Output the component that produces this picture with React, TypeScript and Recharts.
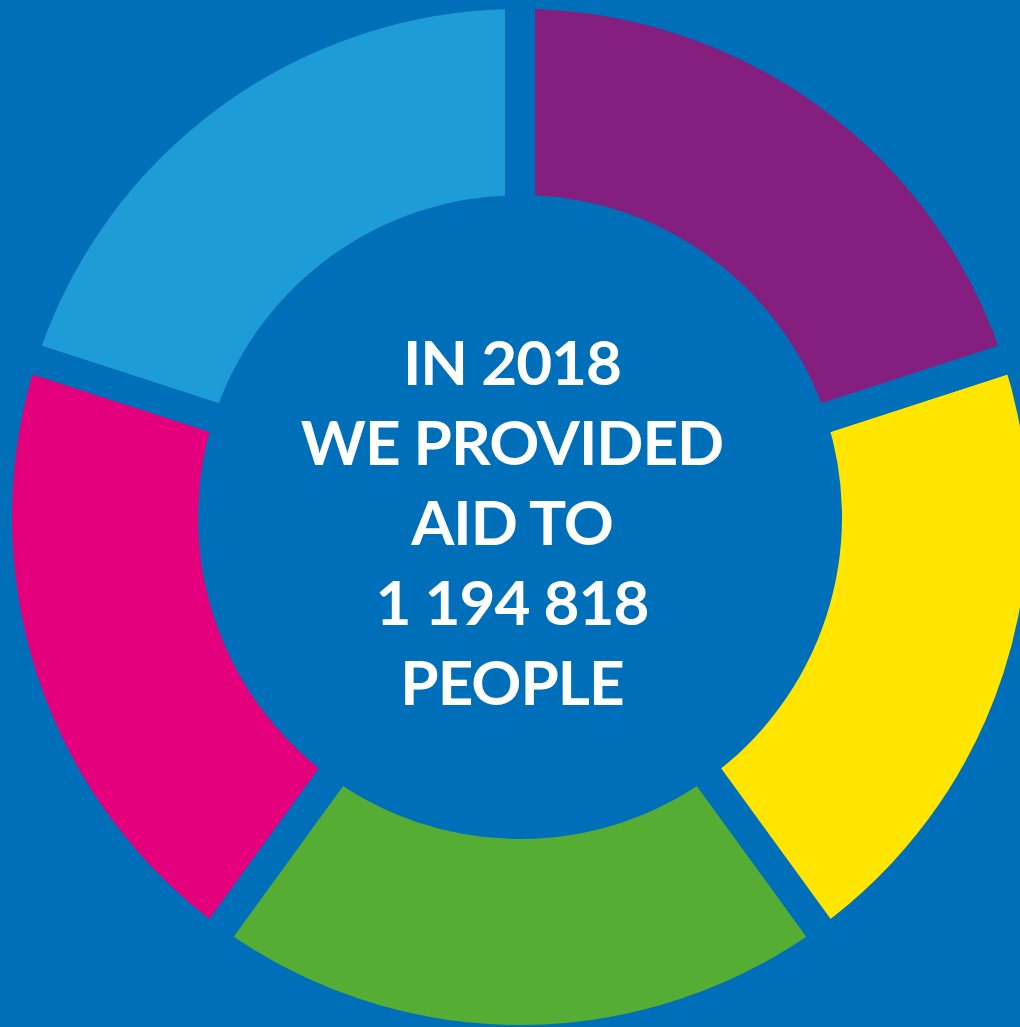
import { PieChart, Pie, Cell, Label } from "recharts";

const segmentNames = ["Segment A", "Segment B", "Segment C", "Segment D", "Segment E"];
const segmentValues = [1, 1, 1, 1, 1];
const segmentColors = ["#1E9CD8", "#E4007D", "#55AD33", "#FFE500", "#841F80"];
const centerLines = ["IN 2018", "WE PROVIDED", "AID TO", "1 194 818", "PEOPLE"];

const BG = "#006FBA";

const data = segmentNames.map((name, i) => ({
    name,
    value: segmentValues[i],
    color: segmentColors[i],
}));

function CenterText(props: any) {
    const vb = props.viewBox || {};
    const cx = (vb.cx ?? 520) - 8;
    const cy = vb.cy ?? 517;
    return (
        <g>
            {centerLines.map((line, i) => (
                <text
                    key={line}
                    x={cx}
                    y={cy - 132 + i * 80}
                    textAnchor="middle"
                    fill="#ffffff"
                    style={{ fontFamily: "Lato, 'Open Sans', sans-serif", fontWeight: 700, fontSize: 62, letterSpacing: -1 }}
                >
                    {line}
                </text>
            ))}
        </g>
    );
}

export default function App() {
    return (
        <div style={{ width: 1020, height: 1027, background: BG }}>
            <style>{`body{margin:0;background:${BG};}`}</style>
            <PieChart width={1020} height={1027} margin={{ top: 0, right: 0, bottom: 0, left: 0 }}>
                <Pie
                    data={data}
                    dataKey="value"
                    nameKey="name"
                    cx={520}
                    cy={517}
                    innerRadius={307}
                    outerRadius={523}
                    startAngle={90}
                    endAngle={450}
                    stroke={BG}
                    strokeWidth={30}
                    isAnimationActive={false}
                >
                    {data.map((entry, index) => (
                        <Cell key={`cell-${index}`} fill={entry.color} stroke={BG} strokeWidth={30} />
                    ))}
                    <Label position="center" content={CenterText} />
                </Pie>
            </PieChart>
        </div>
    );
}
